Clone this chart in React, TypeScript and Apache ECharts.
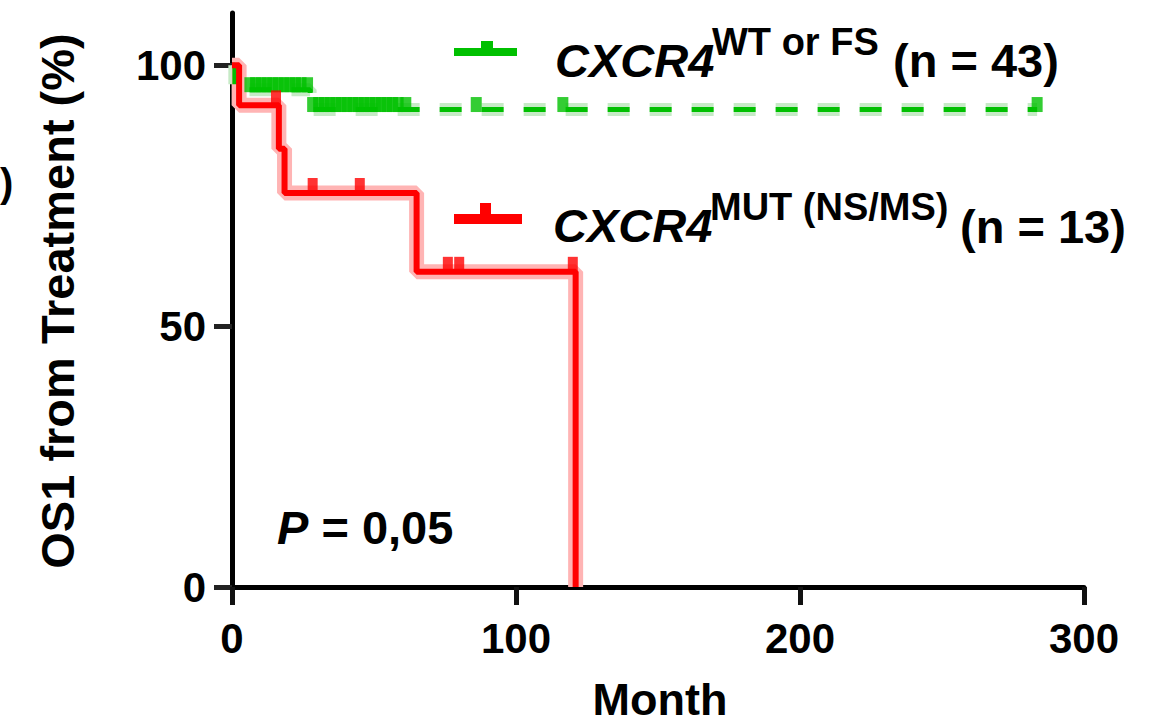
import React, { useEffect, useRef } from "react";
import * as echarts from "echarts";

// ---- Data ----
const xTicks = [0, 100, 200, 300];
const yTicks = [0, 50, 100];

// CXCR4 MUT (NS/MS), n = 13 : Kaplan-Meier steps
const mutTimes = [0, 2.5, 16.5, 18.5, 65, 121];
const mutSurv = [100, 92.3, 84.0, 75.5, 60.4, 0];
const mutCensorTimes = [15.5, 28.4, 45, 76, 80, 120];
const mutCensorSurv = [92.3, 75.5, 75.5, 60.4, 60.4, 60.4];

// CXCR4 WT or FS, n = 43 : Kaplan-Meier steps
const wtTimes = [0, 1, 27.5, 283.5];
const wtSurv = [100, 95.3, 91.5, 91.5];
const wtCensorTimes = [6.3, 8.3, 10.3, 12.3, 14.3, 16.3, 18.3, 20.3, 22.3, 24.3, 26.6, 28.4, 30.5, 32.5, 34.5, 36.5, 38.5, 40.5, 42.5, 44.5, 46.5, 48.5, 50.5, 52.5, 54.5, 56.5, 58.5, 61.2, 86, 116.5, 283.5];
const wtCensorSurv = [95.3, 95.3, 95.3, 95.3, 95.3, 95.3, 95.3, 95.3, 95.3, 95.3, 95.3, 91.5, 91.5, 91.5, 91.5, 91.5, 91.5, 91.5, 91.5, 91.5, 91.5, 91.5, 91.5, 91.5, 91.5, 91.5, 91.5, 91.5, 91.5, 91.5, 91.5];

const legendMain = "CXCR4";
const wtSup = "WT or FS";
const wtN = "(n = 43)";
const mutSup = "MUT (NS/MS)";
const mutN = "(n = 13)";
const pText = " = 0,05";
const xTitle = "Month";
const yTitle = "OS1 from Treatment (%)";

const RED = "#ff0000";
const RED_HALO = "#ffb4b4";
const GREEN = "#00c000";
const GREEN_HALO = "#c6eac6";
const FONT = "'Liberation Sans', Arial, sans-serif";

const zip = (a: number[], b: number[]) => a.map((v, i) => [v, b[i]]);

function txt(text: string, x: number, y: number, size: number, opts: any = {}) {
  const align = opts.align || "left";
  return {
    type: "text",
    x,
    y,
    rotation: opts.rotation || 0,
    style: {
      text,
      fill: "#000",
      fontSize: size,
      fontWeight: "bold",
      fontStyle: opts.italic ? "italic" : "normal",
      fontFamily: FONT,
      align,
      verticalAlign: "middle",
      textAlign: align,
      textVerticalAlign: "middle",
      rich: opts.rich,
    },
  };
}

export default function App() {
  const ref = useRef<HTMLDivElement>(null);
  useEffect(() => {
    if (!ref.current) return;
    const chart = echarts.init(ref.current, null, { renderer: "svg" });
    const option: any = {
      animation: false,
      backgroundColor: "#ffffff",
      grid: { left: 232, right: 75, top: 13, bottom: 137, containLabel: false },
      xAxis: {
        type: "value",
        min: 0,
        max: 300,
        axisLine: { show: true, onZero: false, lineStyle: { color: "#000", width: 5 } },
        axisTick: { show: true, length: 18, customValues: xTicks, lineStyle: { color: "#111", width: 5 } },
        axisLabel: {
          customValues: xTicks,
          margin: 30,
          fontSize: 42,
          fontWeight: "bold",
          fontFamily: FONT,
          color: "#000",
        },
        splitLine: { show: false },
      },
      yAxis: {
        type: "value",
        min: 0,
        max: 110,
        axisLine: { show: true, onZero: true, lineStyle: { color: "#000", width: 5 } },
        axisTick: { show: true, length: 18, customValues: yTicks, lineStyle: { color: "#222", width: 5 } },
        axisLabel: {
          customValues: yTicks,
          margin: 26,
          fontSize: 42,
          fontWeight: "bold",
          fontFamily: FONT,
          color: "#000",
        },
        splitLine: { show: false },
      },
      series: [
        {
          name: "wt-halo",
          type: "line",
          step: "end",
          data: zip(wtTimes, wtSurv),
          showSymbol: false,
          lineStyle: { color: GREEN_HALO, width: 13, type: [22, 20] },
          z: 1,
          silent: true,
        },
        {
          name: "mut-halo",
          type: "line",
          step: "end",
          data: zip(mutTimes, mutSurv),
          showSymbol: false,
          lineStyle: { color: RED_HALO, width: 15 },
          z: 2,
          silent: true,
        },
        {
          name: "CXCR4 WT or FS",
          type: "line",
          step: "end",
          data: zip(wtTimes, wtSurv),
          showSymbol: false,
          lineStyle: { color: GREEN, width: 5, type: [22, 20] },
          z: 3,
        },
        {
          name: "wt-censor",
          type: "scatter",
          data: zip(wtCensorTimes, wtCensorSurv),
          symbol: "rect",
          symbolSize: [11, 15],
          symbolOffset: [0, -5],
          itemStyle: { color: GREEN },
          z: 4,
        },
        {
          name: "CXCR4 MUT (NS/MS)",
          type: "line",
          step: "end",
          data: zip(mutTimes, mutSurv),
          showSymbol: false,
          lineStyle: { color: RED, width: 6 },
          z: 5,
        },
        {
          name: "mut-censor",
          type: "scatter",
          data: zip(mutCensorTimes, mutCensorSurv),
          symbol: "rect",
          symbolSize: [10, 16],
          symbolOffset: [0, -7],
          itemStyle: { color: RED },
          z: 6,
        },
      ],
      graphic: [
        // legend symbols
        { type: "rect", shape: { x: 454, y: 48, width: 63, height: 8 }, style: { fill: GREEN } },
        { type: "rect", shape: { x: 481, y: 41, width: 12, height: 10 }, style: { fill: GREEN } },
        { type: "rect", shape: { x: 454, y: 214, width: 68, height: 10 }, style: { fill: RED } },
        { type: "rect", shape: { x: 480, y: 203, width: 11, height: 12 }, style: { fill: RED } },
        // legend texts
        txt(legendMain, 555, 60, 47, { italic: true }),
        txt(wtSup, 712, 42, 38),
        txt(wtN, 893, 60, 47),
        txt(legendMain, 553, 225, 47, { italic: true }),
        txt(mutSup, 710, 207, 38),
        txt(mutN, 960, 226, 47),
        // P value
        txt("{p|P}" + pText, 277, 527, 47, {
          rich: { p: { fontStyle: "italic", fontWeight: "bold", fontSize: 47, fontFamily: FONT } },
        }),
        // axis titles
        txt(xTitle, 660, 699, 45, { align: "center" }),
        txt(yTitle, 57, 301, 47, { align: "center", rotation: Math.PI / 2 }),
        // fragment at the left edge (as in the reference)
        txt(")", 0, 183, 40),
      ],
    };
    chart.setOption(option);
    return () => chart.dispose();
  }, []);
  return (
    <div
      ref={ref}
      style={{ position: "fixed", left: 0, top: 0, width: 1159, height: 724, background: "#fff" }}
    />
  );
}
